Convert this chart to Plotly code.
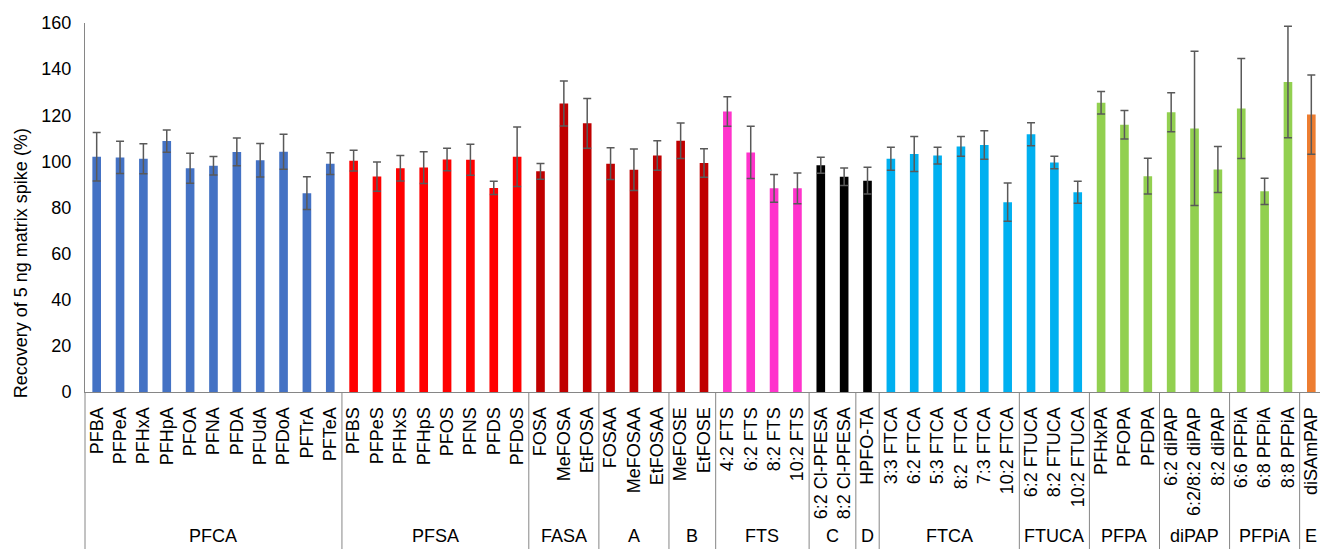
import plotly.graph_objects as go

# ---- data ----
groups = ["PFCA", "PFSA", "FASA", "A", "B", "FTS", "C", "D", "FTCA", "FTUCA", "PFPA", "diPAP", "PFPiA", "E"]
group_members = [
    ["PFBA", "PFPeA", "PFHxA", "PFHpA", "PFOA", "PFNA", "PFDA", "PFUdA", "PFDoA", "PFTrA", "PFTeA"],
    ["PFBS", "PFPeS", "PFHxS", "PFHpS", "PFOS", "PFNS", "PFDS", "PFDoS"],
    ["FOSA", "MeFOSA", "EtFOSA"],
    ["FOSAA", "MeFOSAA", "EtFOSAA"],
    ["MeFOSE", "EtFOSE"],
    ["4:2 FTS", "6:2 FTS", "8:2 FTS", "10:2 FTS"],
    ["6:2 Cl-PFESA", "8:2 Cl-PFESA"],
    ["HPFO-TA"],
    ["3:3 FTCA", "6:2 FTCA", "5:3 FTCA", "8:2  FTCA", "7:3 FTCA", "10:2 FTCA"],
    ["6:2 FTUCA", "8:2 FTUCA", "10:2 FTUCA"],
    ["PFHxPA", "PFOPA", "PFDPA"],
    ["6:2 diPAP", "6:2/8:2 diPAP", "8:2 diPAP"],
    ["6:6 PFPiA", "6:8 PFPiA", "8:8 PFPiA"],
    ["diSAmPAP"],
]
group_colors = ["#4472C4", "#FF0000", "#C00000", "#C00000", "#C00000", "#FF33CC", "#000000", "#000000",
                "#00B0F0", "#00B0F0", "#92D050", "#92D050", "#92D050", "#ED7D31"]

recovery = [102.0, 101.7, 101.1, 108.8, 97.0, 98.1, 104.1, 100.5, 104.2, 86.2, 99.0,
            100.3, 93.4, 97.0, 97.3, 100.8, 100.7, 88.5, 102.0,
            95.7, 125.1, 116.5,
            99.0, 96.4, 102.5,
            108.9, 99.3,
            121.6, 103.9, 88.3, 88.3,
            98.3, 93.3,
            91.6,
            101.1, 103.2, 102.5, 106.5, 107.1, 82.3,
            111.8, 99.5, 86.6,
            125.4, 115.9, 93.6,
            121.3, 114.3, 96.5,
            122.9, 87.0, 134.4,
            120.3]
sd = [10.5, 7.0, 6.5, 4.8, 6.5, 4.0, 6.0, 7.3, 7.6, 7.1, 4.7,
      4.5, 6.3, 5.5, 6.9, 4.9, 6.7, 2.9, 12.9,
      3.4, 9.8, 10.8,
      6.9, 9.0, 6.4,
      7.7, 6.2,
      6.4, 11.3, 6.0, 6.7,
      3.5, 3.8,
      5.8,
      5.0, 7.6, 3.6, 4.3, 6.2, 8.3,
      5.0, 2.7, 4.8,
      4.9, 6.2, 7.8,
      8.5, 33.4, 10.0,
      21.7, 5.7, 24.2,
      17.2]

y_title = "Recovery of 5 ng matrix spike (%)"

# ---- derived ----
compounds = [c for g in group_members for c in g]
colors = [col for g, col in zip(group_members, group_colors) for _ in g]
xpos = list(range(len(compounds)))

FONT = "Liberation Sans, Arial, sans-serif"
LINE = "#868686"
FS = 18

fig = go.Figure()
fig.add_trace(go.Bar(
    x=xpos, y=recovery,
    marker=dict(color=colors, line=dict(width=0)),
    error_y=dict(type="data", array=sd, visible=True, color="#595959", thickness=1.5, width=4),
    width=0.37,
    showlegend=False,
))

# group dividers and labels
shapes = []
annotations = []
start = 0
bottom = -0.43
shapes.append(dict(type="line", xref="paper", yref="paper", x0=0, x1=0, y0=0, y1=bottom,
                   line=dict(color=LINE, width=1)))
for g, members in zip(groups, group_members):
    end = start + len(members)
    shapes.append(dict(type="line", xref="x", yref="paper", x0=end - 0.5, x1=end - 0.5,
                       y0=0, y1=bottom, line=dict(color=LINE, width=1)))
    annotations.append(dict(text=g, x=(start + end - 1) / 2, xref="x", y=-0.389, yref="paper",
                            showarrow=False, yanchor="middle", xanchor="center",
                            font=dict(family=FONT, size=FS, color="#000000")))
    start = end

annotations.append(dict(text=y_title, xref="paper", yref="paper", x=-0.0517, y=0.349,
                        textangle=-90, showarrow=False, xanchor="center", yanchor="middle",
                        font=dict(family=FONT, size=FS, color="#000000")))

fig.update_layout(
    width=1320, height=541,
    margin=dict(l=77, r=5, t=9, b=157),
    plot_bgcolor="white", paper_bgcolor="white",
    shapes=shapes, annotations=annotations,
    font=dict(family=FONT, size=FS, color="#000000"),
    xaxis=dict(
        range=[-0.5, len(compounds) - 0.5],
        tickmode="array", tickvals=xpos, ticktext=compounds,
        tickangle=-90, showline=True, linecolor=LINE, linewidth=1,
        ticks="outside", ticklen=7, tickcolor="rgba(0,0,0,0)",
        showgrid=False, zeroline=False,
        tickfont=dict(family=FONT, size=FS, color="#000000"),
    ),
    yaxis=dict(
        range=[0, 160], dtick=20, tick0=0,
        showline=True, linecolor=LINE, linewidth=1,
        ticks="outside", ticklen=9, tickcolor="rgba(0,0,0,0)",
        ticklabeloverflow="allow",
        showgrid=False, zeroline=False,
        tickfont=dict(family=FONT, size=FS, color="#000000"),
    ),
)

fig.write_html("out.html")
